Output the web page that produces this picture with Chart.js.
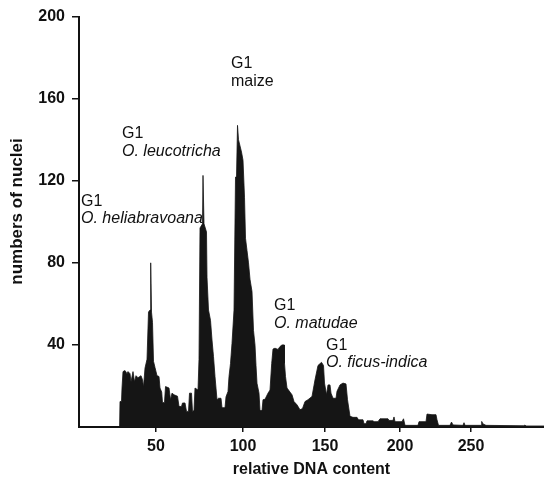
<!DOCTYPE html>
<html>
<head>
<meta charset="utf-8">
<script src="https://cdn.jsdelivr.net/npm/chart.js@4/dist/chart.umd.min.js"></script>
<style>
  html, body { margin: 0; padding: 0; background: #fff; }
  #wrap { width: 544px; height: 483px; }
</style>
</head>
<body>
<div id="wrap"><canvas id="c" width="544" height="483"></canvas></div>
<script>
// Histogram channels (x) and numbers of nuclei (y)
const channels = [
  20.25, 20.5, 21.25, 21.5, 22, 23, 24, 24.5, 25.5, 26, 27, 27.75, 28.5, 29.5, 31, 31.75, 32.25,
  33, 34, 34.75, 35.5, 35.85, 36.25, 36.75, 37.25, 38, 39, 40, 40.5, 41.35, 41.75, 42.75, 43.25,
  45, 45.75, 46.5, 47.5, 49.25, 50, 51.25, 51.75, 53, 53.75, 54.75, 55.25, 56.25, 56.75, 57.5,
  58, 59.5, 60, 60.5, 61.75, 62, 62.5, 63.75, 64, 64.75, 65.75, 66.5, 67.25, 68, 69, 69.75,
  71, 71.5, 73, 73.5, 74.5, 75, 75.75, 76.5, 77.5, 78.25, 78.75, 79.25, 79.75, 80.5, 81.25,
  82, 82.75, 83.25, 84, 84.75, 85.5, 86.5, 87.25, 88, 88.5, 89, 90, 90.5, 91.5, 92, 93, 94.5,
  95.5, 96.35, 97, 98, 99.5, 100.5, 101.5, 102.5, 102.75, 103.25, 104, 105.5, 106.5, 107.5,
  109, 110.5, 111.75, 113, 114.5, 116.5, 118, 119.5, 121.25, 122.25, 122.75, 123.75, 124.5,
  125.5, 126, 127, 128.5, 129, 130.5, 132, 133.5, 134.25, 135.5, 137, 139, 139.75, 142, 142.5,
  143.5, 144, 147, 147.5, 149.5, 150.5, 154.5, 155, 157, 157.5, 158, 161.5, 162.25, 163, 169.5,
  170, 173.5, 174, 176.5, 178.5, 179, 179.75, 185.5, 186.25, 187, 192, 192.5, 193, 201, 201.35,
  202, 203.5, 222.5, 223, 223.5, 232.5
];
const nuclei = [
  0, 12.4, 12.4, 19, 27, 27.5, 26, 27, 26, 22, 27, 22, 25, 24, 25, 23, 19.5,
  28.7, 33, 56, 57, 80, 56, 51, 32, 29, 25, 24.6, 19, 17, 11.8, 12, 19.7,
  19, 13.3, 16.5, 15.7, 15, 10, 10, 11.7, 11.7, 7.6, 7.6, 16.5, 16.5, 7.6, 8,
  19, 18, 33, 97, 99, 122.6, 99, 95, 73, 57, 52, 42.4, 34.3, 24.6, 13.3, 14,
  14, 9.4, 9.4, 14.7, 17.3, 24.6, 31, 40.8, 57, 121.8, 121.8, 147, 140, 137, 134,
  130, 112, 92, 86, 80, 72, 66, 47, 40, 30, 21.3, 16.5, 8, 8, 13.3, 13.5, 16.5,
  18, 31, 38, 38.4, 37.8, 39.2, 40, 40, 31, 24.6, 19, 17, 15.7, 12.4,
  10.8, 8.4, 9, 12.4, 13.3, 14.9, 23, 30, 31.5, 30, 21.4, 15.7, 20.5,
  20.5, 16.5, 14, 14, 17.4, 20.5, 21.4, 21, 13.3, 5.2, 4.7, 4.7, 3.5, 3.5, 1.6,
  1.6, 3, 3, 2.6, 2.6, 4, 4, 3.2, 3.2, 4.9, 2.6, 2.6, 4, 0.8, 0.8,
  2.6, 2.6, 6.3, 6, 6, 3.5, 0.8, 0.8, 2.4, 1, 0.8, 2.1, 0.8, 0.8, 2.7,
  1.5, 0.8, 0.6, 1, 0.5, 0.5
];
// x-axis tick labels (relative DNA content) and the channel where each sits
const tickLabels = ['50', '100', '150', '200', '250'];
const tickChannels = [38.5, 82, 123, 160.5, 196];
const yTicks = [40, 80, 120, 160, 200];

// peak annotations
const peakTitles = ['G1', 'G1', 'G1', 'G1', 'G1'];
const peakNames = ['O. heliabravoana', 'O. leucotricha', 'maize', 'O. matudae', 'O. ficus-indica'];
const peakItalic = [true, true, false, true, true];
const peakChannel = [1, 21.5, 76, 97.5, 123.5];
const peakLevel = [110, 143, 177, 59, 39.7];

const yTitle = 'numbers of nuclei';
const xTitle = 'relative DNA content';

const FONT = "'Liberation Sans', Arial, Helvetica, sans-serif";

const annotate = {
  id: 'annotate',
  afterDatasetsDraw(chart) {
    const {ctx, scales: {x, y}} = chart;
    ctx.save();
    ctx.fillStyle = '#111';
    ctx.textAlign = 'left';
    ctx.textBaseline = 'middle';
    peakNames.forEach((name, i) => {
      const px = x.getPixelForValue(peakChannel[i]);
      const py = y.getPixelForValue(peakLevel[i]);
      ctx.font = '16px ' + FONT;
      ctx.fillText(peakTitles[i], px, py);
      ctx.font = (peakItalic[i] ? 'italic ' : '') + '16px ' + FONT;
      ctx.fillText(name, px, py + 17.5);
    });
    // y-axis title, rotated
    ctx.translate(17.5, y.getPixelForValue(105));
    ctx.rotate(-Math.PI / 2);
    ctx.textAlign = 'center';
    ctx.font = 'bold 17px ' + FONT;
    ctx.fillText(yTitle, 0, 0);
    ctx.restore();
  }
};

const points = channels.map((c, i) => ({x: c, y: nuclei[i]}));

new Chart(document.getElementById('c'), {
  type: 'line',
  data: {
    datasets: [{
      data: points,
      borderColor: '#151515',
      backgroundColor: '#151515',
      borderWidth: 0.8,
      fill: 'origin',
      pointRadius: 0,
      tension: 0
    }]
  },
  options: {
    responsive: false,
    animation: false,
    events: [],
    layout: { padding: { top: 16, right: 0, left: 0, bottom: 0 } },
    plugins: { legend: { display: false }, tooltip: { enabled: false } },
    scales: {
      x: {
        type: 'linear',
        min: 0,
        max: 232.5,
        border: { display: true, color: '#111', width: 2 },
        grid: { display: true, drawOnChartArea: false, drawTicks: true, tickLength: 5, color: '#111', lineWidth: 1.5 },
        afterBuildTicks(scale) { scale.ticks = tickChannels.map(v => ({ value: v })); },
        afterFit(scale) { scale.height = 56; },
        ticks: {
          autoSkip: false,
          maxRotation: 0,
          padding: 5,
          color: '#111',
          font: { family: FONT, size: 16, weight: 'bold' },
          callback: (v, i) => tickLabels[i]
        },
        title: {
          display: true,
          text: xTitle,
          color: '#111',
          font: { family: FONT, size: 16, weight: 'bold' },
          padding: { top: 0, bottom: 4 }
        }
      },
      y: {
        type: 'linear',
        min: 0,
        max: 200,
        border: { display: true, color: '#111', width: 2 },
        grid: { display: true, drawOnChartArea: false, drawTicks: true, tickLength: 7, color: '#111', lineWidth: 1.5 },
        afterBuildTicks(scale) { scale.ticks = yTicks.map(v => ({ value: v })); },
        afterFit(scale) { scale.width = 79; },
        ticks: {
          padding: 7,
          color: '#111',
          font: { family: FONT, size: 16, weight: 'bold' }
        },
        title: { display: false }
      }
    }
  },
  plugins: [annotate]
});
</script>
</body>
</html>
